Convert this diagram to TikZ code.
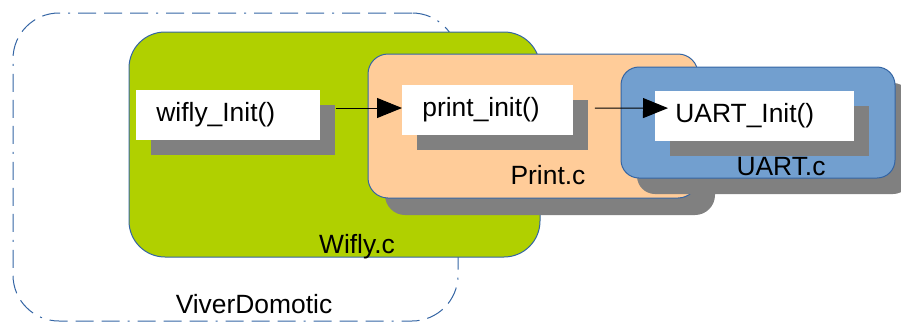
\documentclass[tikz,border=0pt]{standalone}
\usepackage{fontspec}
\setmainfont{Liberation Sans}
\usetikzlibrary{arrows.meta,shadows}

\definecolor{wiflygreen}{RGB}{176,208,0}
\definecolor{printorange}{RGB}{255,204,153}
\definecolor{uartblue}{RGB}{114,159,207}
\definecolor{edgeblue}{RGB}{52,101,164}

\begin{document}
\begin{tikzpicture}[x=0.5pt,y=-0.5pt,
    every node/.style={font=\fontsize{13.2}{15}\selectfont},
    module/.style={draw=edgeblue,line width=0.5pt,rounded corners=#1,inner sep=0pt},
    func/.style={fill=white,inner ysep=0pt,inner xsep=10pt,align=left,minimum height=25pt,
        general shadow={shadow xshift=7.5pt,shadow yshift=-7.5pt,fill=black!50}},
    call/.style={-{Triangle[length=12.5pt,width=10pt]},line width=0.5pt}]
    \useasboundingbox (0,0) rectangle (901,322);
    % outer project frame
    \node[draw=edgeblue,line width=0.5pt,rounded corners=23pt,
          dash pattern=on 9pt off 4pt on 9pt off 4pt on 9pt off 4pt on 1pt off 4pt,
          minimum width=222.5pt,minimum height=154pt] (viver) at (235.5,167) {};
    \node[anchor=base] (viverlbl) at (254,313) {ViverDomotic};
    % source files
    \node[module=18pt,fill=wiflygreen,minimum width=205.5pt,minimum height=112.5pt] (wiflyc) at (334.5,144.5) {};
    \node[anchor=base] (wiflylbl) at (357,253) {Wifly.c};
    \node[module=10pt,fill=printorange,minimum width=165pt,minimum height=72pt,
          general shadow={shadow xshift=8.5pt,shadow yshift=-8.5pt,fill=black!50}] (printc) at (533,126) {};
    \node[anchor=base] (printlbl) at (548,184) {Print.c};
    \node[module=9pt,fill=uartblue,minimum width=137pt,minimum height=55.5pt,
          general shadow={shadow xshift=8pt,shadow yshift=-8pt,fill=black!50}] (uartc) at (758,122.5) {};
    \node[anchor=base] (uartlbl) at (781,175) {UART.c};
    % functions
    \node[func,text width=72pt,anchor=west] (wifly) at (136,115) {wifly\_Init()};
    \node[func,text width=65.5pt,anchor=west] (print) at (402,110) {print\_init()};
    \node[func,text width=79.5pt,anchor=west] (uart) at (655,115.5) {UART\_Init()};
    % calls
    \draw[call] ([xshift=7.5pt,yshift=3.5pt]wifly.east) -- ([yshift=1pt]print.west);
    \draw[call] ([xshift=10.5pt,yshift=1pt]print.east) -- ([xshift=6.5pt,yshift=3.7pt]uart.west);
\end{tikzpicture}
\end{document}
